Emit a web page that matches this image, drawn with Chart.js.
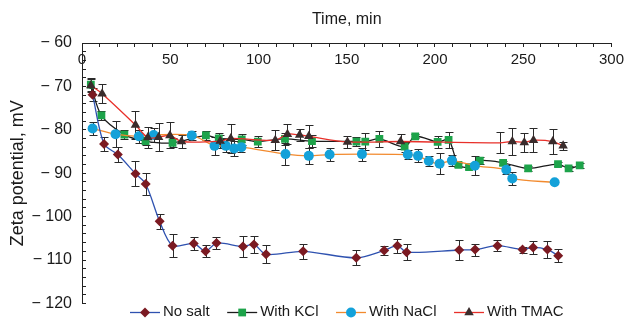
<!DOCTYPE html>
<html>
<head>
<meta charset="utf-8">
<script src="https://cdn.jsdelivr.net/npm/chart.js@4.4.1/dist/chart.umd.min.js"></script>
<style>
  html, body { margin: 0; padding: 0; background: #fff; }
</style>
</head>
<body>
<canvas id="zetaChart" width="632" height="327"></canvas>
<script>
const FONT = '"Liberation Sans", Arial, sans-serif';

// time (min), zeta (mV), error (+/- mV) for each run
const noSaltTime = [6, 12.5, 20.3, 30.3, 36.1, 44, 51.3, 63.3, 70, 76.2, 91.2, 97.4, 104.3, 125.3, 155.4, 171.2, 178.7, 183.9, 213.7, 222.7, 235.4, 249.6, 255.6, 263.7, 269.8];
const noSaltZeta = [-71.9, -83.3, -85.7, -90.1, -92.5, -101.1, -106.7, -106.2, -108, -106.1, -106.9, -106.4, -108.7, -108, -109.5, -107.8, -106.7, -108.2, -107.7, -107.6, -106.7, -107.6, -107.1, -107.6, -109];
const noSaltErr  = [1.5, 1.6, 1.8, 2.8, 2.5, 1.7, 2.6, 1.4, 1.4, 1.4, 2.5, 2, 2.1, 1.8, 1.7, 1.1, 1.6, 1.9, 2.2, 1.4, 1.2, 0.7, 1.5, 1.9, 1.5];

const kclTime = [5, 11, 24, 36, 51.3, 70.2, 77.5, 90.5, 99.6, 115, 130.3, 155.5, 160.5, 168.5, 182.8, 188.8, 201.5, 207.7, 213.3, 219.3, 225.4, 238.6, 252.8, 269.7, 275.7, 282];
const kclZeta = [-69.6, -76.7, -81.1, -82.6, -83, -81.3, -82, -82.2, -82.7, -82.1, -82.6, -82.7, -82.7, -82.1, -83.9, -81.5, -82.8, -82.3, -88.1, -88.6, -87.1, -87.6, -88.9, -87.9, -88.9, -88.2];
const kclErr  = [1.5, 1, 1, 1, 1, 1, 1.2, 1.3, 1.2, 1.3, 1.3, 1, 1.9, 1.8, 1.2, 0.5, 1.4, 1.9, 0.5, 0.5, 0.8, 0.5, 0.5, 0.5, 0.5, 0.5];

const naclTime = [6, 19, 32.2, 40.6, 62.2, 75.1, 81.5, 86.2, 90.3, 115.3, 128.5, 140.3, 158.6, 184.6, 190.4, 196.5, 202.6, 209.6, 222.6, 240.4, 243.8, 267.8];
const naclZeta = [-79.7, -81, -81.5, -81.2, -81.3, -83.7, -83.7, -84.3, -84, -85.6, -86, -85.7, -85.6, -85.7, -86, -87.2, -87.8, -87.1, -88.3, -89.2, -91.2, -92.1];
const naclErr  = [1.4, 3, 1.5, 1.5, 1, 2, 1.5, 1.8, 1.2, 2.6, 1.8, 1.6, 1.5, 1.1, 1.5, 1.2, 2.4, 1.2, 2.2, 1, 1.5, 0];

const tmacTime = [5, 11.4, 30.3, 37.3, 43.4, 49.8, 56.4, 78.3, 84.3, 109.5, 116.4, 123.3, 128.5, 150.4, 180.5, 236.7, 243.8, 250.6, 255.8, 266.7, 272.6];
const tmacZeta = [-69.8, -71.7, -78.9, -81.8, -81.7, -81.3, -82.7, -82.6, -82, -82.4, -81, -81.2, -81.5, -82.8, -82.7, -83, -82.7, -82.9, -82.4, -82.7, -83.7];
const tmacErr  = [1.5, 2.2, 3.2, 2.4, 3.2, 3, 1.5, 1.5, 3.4, 2.3, 2.3, 1.4, 2.7, 1.4, 1.7, 2.4, 3.1, 2.2, 2.8, 2.9, 0.9];

function pts(t, v) {
  return t.map((x, i) => ({ x: x, y: v[i] }));
}

function minus(v) {
  return v < 0 ? '\u2212 ' + Math.abs(v) : String(v);
}

// error bars drawn under the lines and markers
const errorBars = {
  id: 'errorBars',
  beforeDatasetsDraw(chart) {
    const ctx = chart.ctx;
    const ys = chart.scales.y;
    ctx.save();
    ctx.strokeStyle = '#2a2a2a';
    ctx.lineWidth = 1;
    chart.data.datasets.forEach((ds, i) => {
      const meta = chart.getDatasetMeta(i);
      meta.data.forEach((pt, j) => {
        const e = ds.errors[j];
        if (!e) return;
        const v = ds.data[j].y;
        const x = Math.round(pt.x) + 0.5;
        const top = Math.round(ys.getPixelForValue(v + e)) + 0.5;
        const bot = Math.round(ys.getPixelForValue(v - e)) + 0.5;
        ctx.beginPath();
        ctx.moveTo(x, top); ctx.lineTo(x, bot);
        ctx.moveTo(x - 4, top); ctx.lineTo(x + 4, top);
        ctx.moveTo(x - 4, bot); ctx.lineTo(x + 4, bot);
        ctx.stroke();
      });
    });
    ctx.restore();
  }
};

// legend with line + marker icons, inside the bottom of the plot
const lineLegend = {
  id: 'lineLegend',
  afterDraw(chart) {
    const ctx = chart.ctx;
    ctx.save();
    ctx.font = '15px ' + FONT;
    ctx.textBaseline = 'middle';
    ctx.textAlign = 'left';
    let x = 130;
    const y = 312;
    chart.data.datasets.forEach(ds => {
      ctx.strokeStyle = ds.borderColor;
      ctx.lineWidth = 1.3;
      ctx.beginPath();
      ctx.moveTo(x, y + 0.5);
      ctx.lineTo(x + 30, y + 0.5);
      ctx.stroke();
      ctx.fillStyle = ds.pointBackgroundColor;
      Chart.helpers.drawPoint(ctx, { pointStyle: ds.pointStyle, radius: ds.legendRadius, borderWidth: 0, rotation: 0 }, x + 15, y + 0.5);
      ctx.fillStyle = '#1a1a1a';
      ctx.fillText(ds.label, x + 33, y);
      x += 33 + ctx.measureText(ds.label).width + 17.5;
    });
    ctx.restore();
  }
};

const common = {
  showLine: true,
  tension: 0.3,
  borderWidth: 1.3,
  pointBorderWidth: 0,
  pointHoverRadius: 5
};

new Chart(document.getElementById('zetaChart'), {
  type: 'scatter',
  data: {
    datasets: [
      Object.assign({}, common, {
        label: 'No salt',
        data: pts(noSaltTime, noSaltZeta),
        errors: noSaltErr,
        borderColor: '#2f52b0',
        pointBackgroundColor: '#7b1a22',
        pointStyle: 'rectRot',
        pointRadius: 5,
        legendRadius: 5,
        order: 1
      }),
      Object.assign({}, common, {
        label: 'With KCl',
        data: pts(kclTime, kclZeta),
        errors: kclErr,
        borderColor: '#1c1c1c',
        pointBackgroundColor: '#1da34a',
        pointStyle: 'rect',
        pointRadius: 5.5,
        legendRadius: 5.5,
        order: 3
      }),
      Object.assign({}, common, {
        label: 'With NaCl',
        data: pts(naclTime, naclZeta),
        errors: naclErr,
        borderColor: '#f28a2e',
        pointBackgroundColor: '#14a1d9',
        pointStyle: 'circle',
        pointRadius: 5,
        legendRadius: 5,
        order: 2
      }),
      Object.assign({}, common, {
        label: 'With TMAC',
        data: pts(tmacTime, tmacZeta),
        errors: tmacErr,
        borderColor: '#e8302a',
        pointBackgroundColor: '#3a2c2c',
        pointStyle: 'triangle',
        pointRadius: tmacTime.map((t, i) => i === 15 ? 0 : 5.5),
        legendRadius: 5.5,
        order: 0
      })
    ]
  },
  options: {
    responsive: false,
    animation: false,
    layout: { padding: { top: 0, left: 0, right: 15, bottom: 7 } },
    plugins: {
      legend: { display: false },
      tooltip: { enabled: false }
    },
    scales: {
      x: {
        type: 'linear',
        position: 'top',
        min: 0,
        max: 300,
        afterFit(scale) { scale.height = 43; },
        title: {
          display: true,
          text: 'Time, min',
          color: '#1a1a1a',
          font: { family: FONT, size: 16 },
          padding: { top: 10, bottom: 0 }
        },
        border: { color: '#222', width: 1 },
        grid: { drawOnChartArea: false, tickLength: -4, color: '#222' },
        ticks: {
          stepSize: 10,
          autoSkip: false,
          maxRotation: 0,
          mirror: true,
          padding: 8,
          color: '#1a1a1a',
          font: { family: FONT, size: 15 },
          callback: v => (v % 50 === 0 ? String(v) : '')
        }
      },
      y: {
        type: 'linear',
        min: -120,
        max: -60,
        afterFit(scale) { scale.width = 82; },
        title: {
          display: true,
          text: 'Zeta potential, mV',
          color: '#1a1a1a',
          font: { family: FONT, size: 18 },
          padding: { top: 7, bottom: 0 }
        },
        border: { color: '#222', width: 1 },
        grid: { drawOnChartArea: false, tickLength: -4, color: '#222' },
        ticks: {
          stepSize: 2,
          autoSkip: false,
          padding: 14,
          color: '#1a1a1a',
          font: { family: FONT, size: 16 },
          callback: v => (v % 10 === 0 ? minus(v) : '')
        }
      }
    }
  },
  plugins: [errorBars, lineLegend]
});
</script>
</body>
</html>
